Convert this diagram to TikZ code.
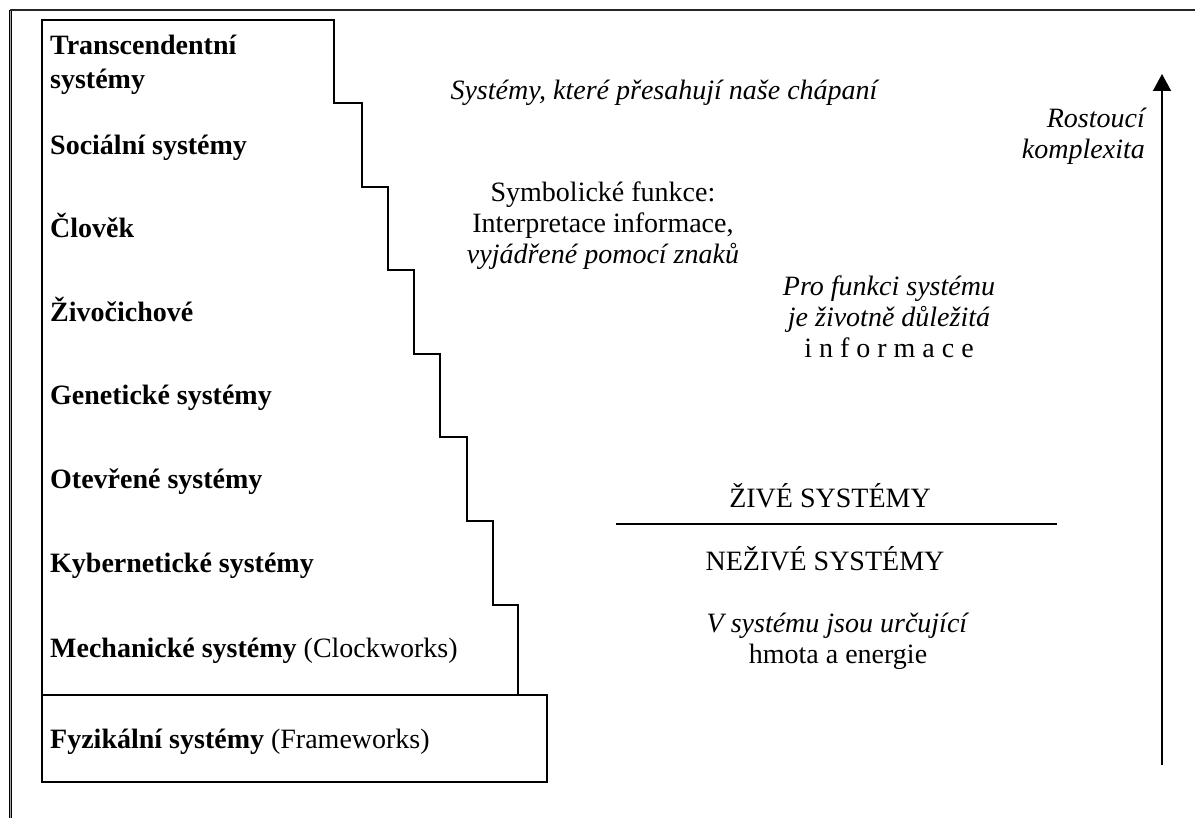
\documentclass[tikz,border=0pt]{standalone}
\usepackage{fontspec}
\setmainfont{Liberation Serif}
\usetikzlibrary{arrows.meta,positioning}
\newcommand{\bigtext}{\fontsize{28}{31}\selectfont}
\newcommand{\leveltext}{\fontsize{28}{34}\selectfont\bfseries}
\tikzset{
	level/.style={font=\leveltext, anchor=base west, align=left, inner sep=0pt},
	note/.style={font=\bigtext, anchor=base, align=center, inner sep=0pt},
	slanted/.style={note, font=\bigtext\itshape},
	outline/.style={line width=2.4pt, line join=miter},
}

\begin{document}
\begin{tikzpicture}[x=1pt, y=-1pt]

	\useasboundingbox (0,0) rectangle (1195,818);

	% page frame
	\draw[line width=0.8pt, double=black!35, double distance=1.2pt] (10.5,818) -- (10.5,10);
	\draw[line width=2pt, black!85] (9.5,10) -- (1195,10);

	% staircase and base box
	\draw[outline] (42,695) -- (42,20) -- (334,20) -- (334,103) -- (362,103) -- (362,187)
		-- (388,187) -- (388,270) -- (414,270) -- (414,354) -- (440,354) -- (440,437)
		-- (467,437) -- (467,521) -- (493,521) -- (493,605) -- (518,605) -- (518,695);
	\draw[outline] (42,695) rectangle (547,782);

	% levels (multi-line nodes sit on their last baseline)
	\node[level] (transc) at (50,89) {Transcendentní\\systémy};
	\node[level] (social) at (50,155) {Sociální systémy};
	\node[level] (clovek) at (50,238) {Člověk};
	\node[level] (zivoc) at (50,322) {Živočichové};
	\node[level] (genet) at (50,405) {Genetické systémy};
	\node[level] (otevr) at (50,488) {Otevřené systémy};
	\node[level] (kyber) at (50,572) {Kybernetické systémy};
	\node[level] (mech) at (50,657) {Mechanické systémy \textmd{(Clockworks)}};
	\node[level] (fyz) at (50,748) {Fyzikální systémy \textmd{(Frameworks)}};

	% notes on the right
	\node[slanted] (beyond) at (664,100) {Systémy, které přesahují naše chápaní};
	\node[note] (symb) at (603,264) {Symbolické funkce:\\Interpretace informace,\\\textit{vyjádřené pomocí znaků}};
	\node[slanted] (info) at (889,358) {Pro funkci systému\\je životně důležitá\\\textup{i n f o r m a c e}};

	\node[note] (alive) at (830,507) {ŽIVÉ SYSTÉMY};
	\coordinate (divleft) at (616,524);
	\coordinate (divright) at (1057,524);
	\draw[line width=2pt] (divleft) -- (divright);
	\node[note] (lifeless) at (825,570) {NEŽIVÉ SYSTÉMY};
	\node[note] (matter) at (838,663) {\textit{V systému jsou určující}\\hmota a energie};

	% complexity arrow
	\node[slanted, anchor=base east, align=right] (complex) at (1145,159) {Rostoucí\\komplexita};
	\coordinate (arrowfoot) at (1162,765);
	\coordinate (arrowtip) at (1162,74);
	\draw[-{Triangle[length=17pt,width=18pt]}, line width=1.6pt] (arrowfoot) -- (arrowtip);

\end{tikzpicture}
\end{document}
